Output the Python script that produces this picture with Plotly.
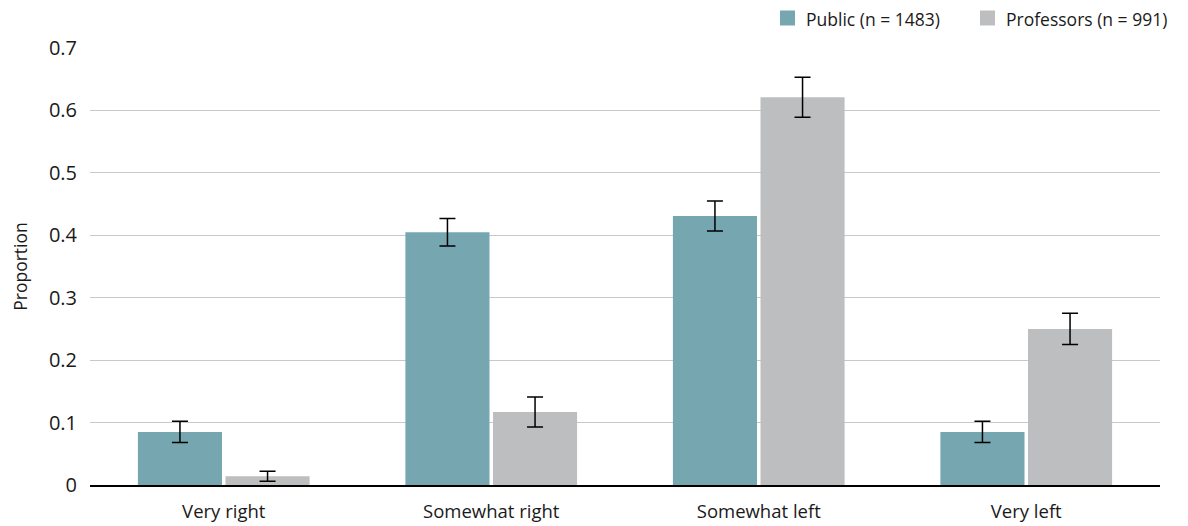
import plotly.graph_objects as go

categories = ["Very right", "Somewhat right", "Somewhat left", "Very left"]
public_vals = [0.085, 0.405, 0.431, 0.085]
public_err = [0.017, 0.022, 0.024, 0.017]
prof_vals = [0.014, 0.117, 0.621, 0.250]
prof_err = [0.008, 0.024, 0.032, 0.025]
y_ticks = [0, 0.1, 0.2, 0.3, 0.4, 0.5, 0.6, 0.7]
y_tick_text = ["0", "0.1", "0.2", "0.3", "0.4", "0.5", "0.6", "0.7"]
series_names = ["Public (n = 1483)", "Professors (n = 991)"]
series_colors = ["#76a7b1", "#bdbec0"]

font_family = "Open Sans, Noto Sans, sans-serif"

# figure size (page body has an 8px margin)
W, H = 1180, 518
ML, MR, MT, MB = 82, 28, 40, 41
PW, PH = W - ML - MR, H - MT - MB


def px_x(x):
    return (x - ML) / PW


def px_y(y):
    return (H - MB - y) / PH


fig = go.Figure()
for name, vals, errs, col in [(series_names[0], public_vals, public_err, series_colors[0]),
                              (series_names[1], prof_vals, prof_err, series_colors[1])]:
    fig.add_trace(go.Bar(
        x=categories, y=vals, name=name,
        marker=dict(color=col, line=dict(width=0)),
        error_y=dict(type="data", array=errs, color="#000000", thickness=1.5, width=8),
        showlegend=False,
    ))

# custom legend (square swatch + label), placed top right
legend_items = [(772, 797), (972, 997)]
shapes = []
annotations = []
for (sq_x, tx_x), name, col in zip(legend_items, series_names, series_colors):
    shapes.append(dict(type="rect", xref="paper", yref="paper",
                       x0=px_x(sq_x), x1=px_x(sq_x + 15), y0=px_y(17.5), y1=px_y(2.5),
                       fillcolor=col, line=dict(width=0)))
    annotations.append(dict(text=name, xref="paper", yref="paper", x=px_x(tx_x), y=px_y(11),
                            xanchor="left", yanchor="middle", showarrow=False,
                            font=dict(size=17.5, color="#1a1a1a"), borderpad=0))

fig.update_layout(
    width=W, height=H,
    paper_bgcolor="white", plot_bgcolor="white",
    margin=dict(l=ML, r=MR, t=MT, b=MB, autoexpand=False),
    barmode="group", bargap=0.345, bargroupgap=0.04,
    font=dict(family=font_family, size=18, color="#1a1a1a"),
    showlegend=False,
    shapes=shapes, annotations=annotations,
)
fig.update_xaxes(showgrid=False, showline=True, linecolor="#000000", linewidth=2,
                 ticks="", tickfont=dict(size=18.5), ticklabelstandoff=9, automargin=False)
fig.update_yaxes(range=[0, 0.7], tickvals=y_ticks, ticktext=y_tick_text,
                 showgrid=True, gridcolor="#c8c8c8", gridwidth=1, zeroline=False,
                 ticks="", tickfont=dict(size=20), ticklabelstandoff=12, automargin=False,
                 title=dict(text="Proportion", font=dict(size=17.5), standoff=19))

fig.write_html("out.html")
